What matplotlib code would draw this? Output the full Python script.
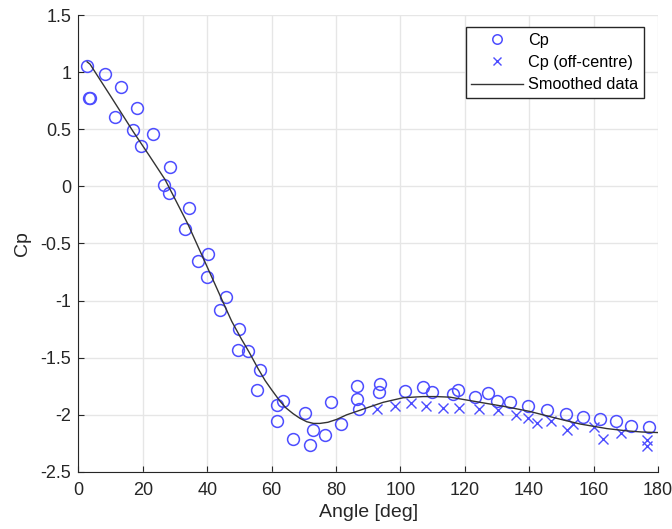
import matplotlib.pyplot as plt

plt.rcParams['font.family'] = ['Liberation Sans', 'DejaVu Sans']

# Cp measured (centre)
angle_cp = [2.6, 3.3, 3.6, 8.3, 11.5, 13.1, 17.0, 18.1, 19.4, 23.1, 26.5, 28.0, 28.4,
            33.1, 34.4, 37.2, 39.8, 40.2, 44.0, 45.8, 49.7, 50.0, 52.6, 55.4, 56.4,
            61.6, 61.8, 63.4, 66.7, 70.4, 71.9, 72.9, 76.7, 78.4, 81.5, 86.4, 86.6,
            87.2, 93.4, 93.7, 101.4, 107.0, 109.7, 116.3, 117.8, 123.2, 127.3, 130.1,
            134.0, 139.7, 145.4, 151.4, 156.8, 162.0, 166.9, 171.6, 177.3]
cp = [1.05, 0.77, 0.77, 0.985, 0.61, 0.87, 0.49, 0.69, 0.35, 0.46, 0.015, -0.06, 0.17,
      -0.37, -0.19, -0.65, -0.79, -0.59, -1.08, -0.97, -1.43, -1.25, -1.44, -1.78, -1.61,
      -2.05, -1.91, -1.88, -2.21, -1.98, -2.26, -2.13, -2.18, -1.89, -2.08, -1.86, -1.75,
      -1.95, -1.80, -1.73, -1.79, -1.76, -1.80, -1.82, -1.78, -1.84, -1.81, -1.88,
      -1.89, -1.92, -1.96, -1.99, -2.02, -2.04, -2.05, -2.10, -2.11]

# Cp off-centre
angle_off = [92.6, 98.3, 103.3, 108.0, 113.1, 118.2, 124.4, 130.2, 135.9, 139.7, 142.6,
             146.7, 151.8, 153.5, 160.1, 162.8, 168.4, 176.5, 176.7]
cp_off = [-1.95, -1.92, -1.90, -1.92, -1.94, -1.94, -1.95, -1.96, -2.00, -2.03, -2.07,
          -2.05, -2.13, -2.08, -2.11, -2.21, -2.16, -2.27, -2.22]

# smoothed curve
angle_s = [2.7, 3.6, 10, 17.0, 22, 26.9, 30, 34, 38.8, 42, 45.5, 47.6, 50.7, 53, 55.9,
           58, 60, 62.6, 64.5, 66.7, 68.8, 70.9, 73, 75, 77.5, 80.2, 83.3, 86.4, 90.5,
           94.7, 97.8, 100.9, 104, 107.1, 111, 115.4, 118.5, 124.7, 133, 140.2, 148.5,
           155.8, 164.1, 170.3, 175, 180]
cp_s = [1.09, 1.07, 0.79, 0.48, 0.27, 0.06, -0.11, -0.33, -0.63, -0.83, -1.05, -1.18,
        -1.34, -1.45, -1.60, -1.70, -1.78, -1.88, -1.94, -1.99, -2.03, -2.06, -2.075,
        -2.075, -2.065, -2.04, -2.00, -1.97, -1.93, -1.89, -1.87, -1.85, -1.845, -1.84,
        -1.84, -1.845, -1.86, -1.89, -1.93, -1.97, -2.03, -2.08, -2.12, -2.14, -2.15,
        -2.155]

yticks = [1.5, 1, 0.5, 0, -0.5, -1, -1.5, -2, -2.5]
ytick_labels = ['1.5', '1', '0.5', '0', '-0.5', '-1', '-1.5', '-2', '-2.5']
xticks = [0, 20, 40, 60, 80, 100, 120, 140, 160, 180]

fig = plt.figure(figsize=(6.72, 5.29), dpi=100)
ax = fig.add_axes([0.1167, 0.1078, 0.8623, 0.8638])

blue = (0.3, 0.3, 1.0)
ax.plot(angle_cp, cp, 'o', markerfacecolor='none', markeredgecolor=blue,
        markersize=8.5, markeredgewidth=1.1, label='Cp', zorder=3)
ax.plot(angle_off, cp_off, 'x', color=blue, markersize=6.5,
        markeredgewidth=1.0, label='Cp (off-centre)', zorder=3)
ax.plot(angle_s, cp_s, '-', color='#333333', linewidth=1.0, label='Smoothed data', zorder=4)

ax.set_xlim(0, 180)
ax.set_ylim(-2.5, 1.5)
ax.set_xticks(xticks)
ax.set_yticks(yticks)
ax.set_yticklabels(ytick_labels)
ax.tick_params(direction='in', labelsize=13, colors='#262626', length=4)
ax.tick_params(axis='x', pad=7)
ax.tick_params(axis='y', pad=5)
ax.grid(True, color='#e6e6e6', linewidth=1.0)
ax.set_axisbelow(True)
for s in ['top', 'right']:
    ax.spines[s].set_visible(False)
for s in ['left', 'bottom']:
    ax.spines[s].set_color('#262626')

ax.set_xlabel('Angle [deg]', fontsize=14, color='#262626', labelpad=3.5)
ax.set_ylabel('Cp', fontsize=14, color='#262626', labelpad=7)

leg = ax.legend(loc='upper right', bbox_to_anchor=(0.976, 0.974), borderaxespad=0,
                fontsize=11.7, fancybox=False, edgecolor='#262626', framealpha=1,
                handlelength=3.2, borderpad=0.35, labelspacing=0.45, handletextpad=0.3,
                markerscale=0.8)
leg.get_frame().set_linewidth(1.0)

fig.savefig('out.png', dpi=100)
